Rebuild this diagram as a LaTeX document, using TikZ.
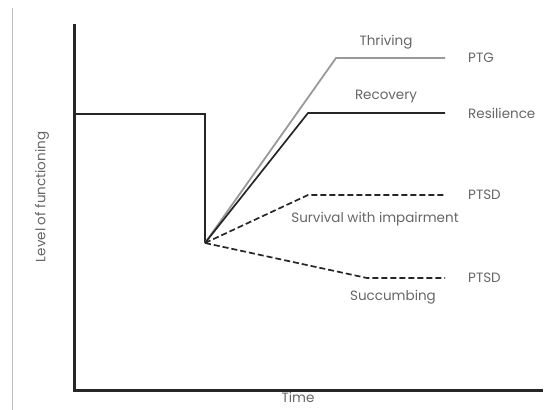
\documentclass[tikz,border=0pt]{standalone}
\usepackage{fontspec}
\setmainfont{Poppins}
\usetikzlibrary{positioning}
\tikzset{
	axis/.style = {line width=3pt, draw=black!85, line cap=rect},
	path line/.style = {line width=1.7pt, draw=black!85},
	gray line/.style = {line width=1.8pt, draw=black!40},
	dash line/.style = {path line, dash pattern=on 6pt off 3pt},
	txt/.style = {text=black!60, font=\fontsize{13.5}{15}\selectfont, inner sep=1pt},
	point/.style = {coordinate},
}

\begin{document}
\begin{tikzpicture}[x=1pt,y=-1pt]
	\useasboundingbox (0,0) rectangle (555,410);
	\draw[black!25, line width=1pt] (12,8) -- (12,410);
	% axes
	\node (top) [point] at (74,25) {};
	\node (origin) [point] at (74,390) {};
	\node (xend) [point] at (541,390) {};
	\draw[axis] (top) -- (origin) -- (xend);
	\node (time) [txt, below=1pt of origin, xshift=224pt] {Time};
	\node (level) [txt, rotate=90] at (42,197) {Level of functioning};
	% before and after the event
	\node (start) [point] at (74,114) {};
	\node (event) [point] at (205,114) {};
	\node (low) [point] at (205,243) {};
	\draw[path line] (start) -- (event) -- (low);
	% trajectories
	\node (thrive) [point] at (336,58) {};
	\node (thriveend) [point] at (445,58) {};
	\node (recover) [point] at (308,113) {};
	\node (recoverend) [point] at (445,113) {};
	\node (survive) [point] at (308,195) {};
	\node (surviveend) [point] at (445,195) {};
	\node (succumb) [point] at (367,278) {};
	\node (succumbend) [point] at (445,278) {};
	\draw[gray line] (low) -- (thrive) -- (thriveend);
	\draw[path line] (low) -- (recover) -- (recoverend);
	\draw[dash line] (low) -- (survive) -- (surviveend);
	\draw[dash line] (low) -- (succumb) -- (succumbend);
	% labels
	\node [txt] at (386,42) {Thriving};
	\node [txt] at (386,97) {Recovery};
	\node [txt] at (375,219) {Survival with impairment};
	\node [txt] at (393,297) {Succumbing};
	\node [txt, right=22pt of thriveend] {PTG};
	\node [txt, right=22pt of recoverend] {Resilience};
	\node [txt, right=22pt of surviveend] {PTSD};
	\node [txt, right=22pt of succumbend] {PTSD};
\end{tikzpicture}
\end{document}
